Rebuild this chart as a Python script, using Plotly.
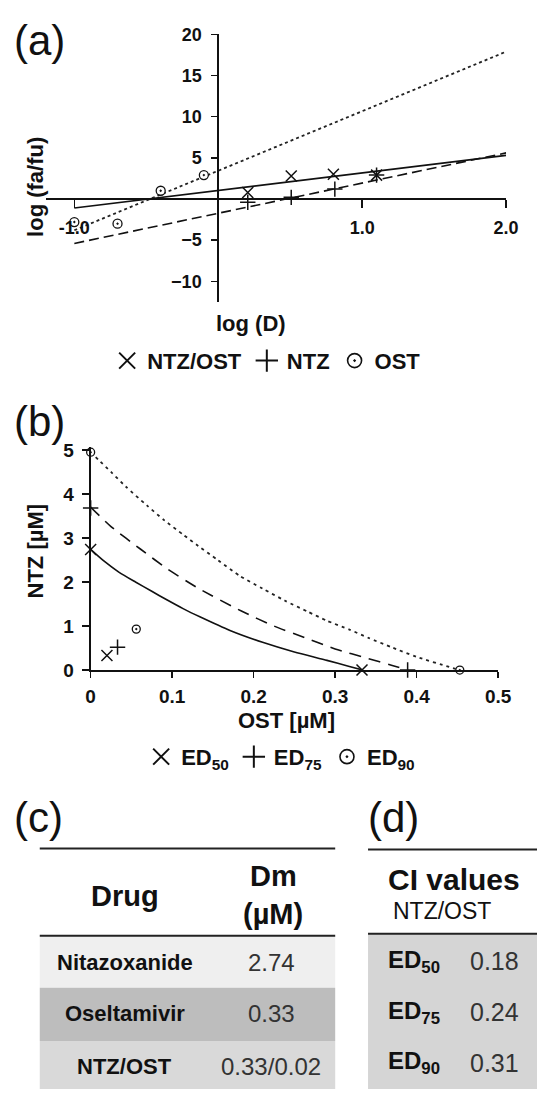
import plotly.graph_objects as go

W, H = 551, 1100
FONT = "Liberation Sans, Arial, sans-serif"

# ---------------- Panel (a): median-effect plot ----------------
ost_logd = [-1.00, -0.70, -0.40, -0.10]
ost_logfafu = [-2.8, -3.0, 1.0, 2.9]
ntz_logd = [0.205, 0.507, 0.81, 1.10]
ntz_logfafu = [-0.4, 0.2, 1.2, 2.9]
combo_logd = [0.205, 0.507, 0.80, 1.10]
combo_logfafu = [0.8, 2.8, 3.0, 2.9]
fit_logd = [-1.0, 2.0]
combo_fit = [-1.1, 5.3]
ntz_fit = [-5.4, 5.6]
ost_fit = [-3.8, 17.9]
a_xticks = [-1.0, 1.0, 2.0]
a_xticklabels = ["-1.0", "1.0", "2.0"]
a_yticks = [-10, -5, 5, 10, 15, 20]

# ---------------- Panel (b): isobologram ----------------
ed50_ost = [0.0, 0.0154, 0.035, 0.055, 0.075, 0.094, 0.114, 0.134, 0.171, 0.211, 0.250, 0.290, 0.3175, 0.334]
ed50_ntz = [2.74, 2.49, 2.22, 2.00, 1.79, 1.59, 1.39, 1.21, 0.90, 0.63, 0.41, 0.22, 0.08, 0.0]
ed75_ost = [0.0, 0.025, 0.061, 0.094, 0.132, 0.185, 0.225, 0.264, 0.300, 0.341, 0.369, 0.389]
ed75_ntz = [3.70, 3.26, 2.75, 2.30, 1.86, 1.34, 1.00, 0.73, 0.48, 0.26, 0.11, 0.0]
ed90_ost = [0.0, 0.0094, 0.025, 0.043, 0.069, 0.0905, 0.114, 0.132, 0.156, 0.183, 0.211, 0.238,
            0.266, 0.290, 0.3175, 0.341, 0.369, 0.400, 0.440, 0.453]
ed90_ntz = [4.95, 4.78, 4.50, 4.17, 3.74, 3.40, 3.07, 2.82, 2.50, 2.14, 1.85, 1.58,
            1.33, 1.12, 0.92, 0.73, 0.52, 0.30, 0.07, 0.0]
ed50_pts_ost = [0.0, 0.333, 0.020]
ed50_pts_ntz = [2.74, 0.0, 0.33]
ed75_pts_ost = [0.0, 0.389, 0.033]
ed75_pts_ntz = [3.68, 0.0, 0.52]
ed90_pts_ost = [0.0, 0.453, 0.056]
ed90_pts_ntz = [4.95, 0.0, 0.93]
b_xticks = [0, 0.1, 0.2, 0.3, 0.4, 0.5]
b_xticklabels = ["0", "0.1", "0.2", "0.3", "0.4", "0.5"]
b_yticks = [0, 1, 2, 3, 4, 5]

# ---------------- Panel (c) / (d): tables ----------------
drugs = ["Nitazoxanide", "Oseltamivir", "NTZ/OST"]
dm_values = ["2.74", "0.33", "0.33/0.02"]
ci_labels = ["ED<sub>50</sub>", "ED<sub>75</sub>", "ED<sub>90</sub>"]
ci_values = ["0.18", "0.24", "0.31"]

legend_a_names = ["NTZ/OST", "NTZ", "OST"]
legend_b_names = ["ED<sub>50</sub>", "ED<sub>75</sub>", "ED<sub>90</sub>"]


def px(xp):
    return xp / W


def py(yp):
    return 1 - yp / H


fig = go.Figure()

# (a) lines
for ys, ln in [
    (combo_fit, dict(color="#111", width=1.6, dash="solid")),
    (ntz_fit, dict(color="#111", width=1.6, dash="10px,5px")),
    (ost_fit, dict(color="#222", width=1.8, dash="3px,3px")),
]:
    fig.add_trace(go.Scatter(x=fit_logd, y=ys, mode="lines", line=ln,
                             showlegend=False, xaxis="x", yaxis="y", hoverinfo="skip"))

mk_x = dict(symbol="x-thin-open", size=11, color="#111", line=dict(width=1.5, color="#111"))
mk_p = dict(symbol="cross-thin-open", size=11, color="#111", line=dict(width=1.5, color="#111"))
mk_o = dict(symbol="circle-dot", size=9, color="white", line=dict(width=1.3, color="#111"))

for xs, ys, mk in [(combo_logd, combo_logfafu, mk_x), (ntz_logd, ntz_logfafu, mk_p),
                   (ost_logd, ost_logfafu, mk_o)]:
    fig.add_trace(go.Scatter(x=xs, y=ys, mode="markers", marker=mk, showlegend=False,
                             xaxis="x", yaxis="y", cliponaxis=False))

# (b) curves
for xs, ys, ln in [
    (ed50_ost, ed50_ntz, dict(color="#111", width=1.6, dash="solid", shape="spline", smoothing=0.6)),
    (ed75_ost, ed75_ntz, dict(color="#111", width=1.6, dash="12px,8px", shape="spline", smoothing=0.6)),
    (ed90_ost, ed90_ntz, dict(color="#222", width=1.8, dash="3px,4px", shape="spline", smoothing=0.6)),
]:
    fig.add_trace(go.Scatter(x=xs, y=ys, mode="lines", line=ln, showlegend=False,
                             xaxis="x2", yaxis="y2", hoverinfo="skip"))

for xs, ys, mk in [(ed50_pts_ost, ed50_pts_ntz, mk_x), (ed75_pts_ost, ed75_pts_ntz, mk_p),
                   (ed90_pts_ost, ed90_pts_ntz, dict(mk_o, size=8))]:
    fig.add_trace(go.Scatter(x=xs, y=ys, mode="markers", marker=mk, showlegend=False,
                             xaxis="x2", yaxis="y2", cliponaxis=False))

# legend-only entries (bigger symbols, as in the reference legends)
lg_x = dict(symbol="x-thin-open", size=16, color="#111", line=dict(width=2, color="#111"))
lg_p = dict(symbol="cross-thin-open", size=16, color="#111", line=dict(width=2, color="#111"))
lg_o = dict(symbol="circle-dot", size=14, color="white", line=dict(width=1.6, color="#111"))
for names, lg, xa, ya in [(legend_a_names, "legend", "x", "y"), (legend_b_names, "legend2", "x2", "y2")]:
    for nm, mk in zip(names, [lg_x, lg_p, lg_o]):
        fig.add_trace(go.Scatter(x=[None], y=[None], mode="markers", marker=mk, name=nm,
                                 legend=lg, xaxis=xa, yaxis=ya, showlegend=True))

# ---- axes geometry ----
ax_dom = [px(42), px(519)]
ax_rng = [-1.2, 2.0]
ay_dom = [py(298.3), py(25)]
ay_rng = [-12.5, 20.1]
x0_paper = ax_dom[0] + (0 - ax_rng[0]) / (ax_rng[1] - ax_rng[0]) * (ax_dom[1] - ax_dom[0])
y0_paper = ay_dom[0] + (0 - ay_rng[0]) / (ay_rng[1] - ay_rng[0]) * (ay_dom[1] - ay_dom[0])

tickfont_a = dict(family=FONT, size=18, color="#111", weight="bold")
tickfont_b = dict(family=FONT, size=19, color="#111", weight="bold")

fig.update_layout(
    width=W, height=H, autosize=False,
    margin=dict(l=0, r=0, t=0, b=0),
    paper_bgcolor="white", plot_bgcolor="white",
    xaxis=dict(domain=ax_dom, range=ax_rng, anchor="free", position=y0_paper,
               tickvals=a_xticks, ticktext=a_xticklabels, ticks="outside", ticklen=8,
               tickwidth=1.5, tickcolor="#111", showline=True, linecolor="#111", linewidth=2,
               showgrid=False, zeroline=False, tickfont=tickfont_a, ticklabelstandoff=4,
               fixedrange=True),
    yaxis=dict(domain=ay_dom, range=ay_rng, anchor="free", position=x0_paper,
               tickvals=a_yticks, ticks="outside", ticklen=6, tickwidth=1.5, tickcolor="#111",
               showline=True, linecolor="#111", linewidth=2, showgrid=False, zeroline=False,
               tickfont=tickfont_a, ticklabelstandoff=6, fixedrange=True),
    xaxis2=dict(domain=[px(88.7), px(510.7)], range=[0, 0.5], anchor="y2",
                tickvals=b_xticks, ticktext=b_xticklabels, ticks="outside", ticklen=6,
                tickwidth=1.5, tickcolor="#111", showline=True, linecolor="#111", linewidth=2,
                showgrid=False, zeroline=False, tickfont=tickfont_b, ticklabelstandoff=2,
                fixedrange=True),
    yaxis2=dict(domain=[py(673.3), py(446)], range=[0, 5.07], anchor="x2",
                tickvals=b_yticks, ticks="outside", ticklen=7, tickwidth=1.5, tickcolor="#111",
                showline=True, linecolor="#111", linewidth=2, showgrid=False, zeroline=False,
                tickfont=tickfont_b, ticklabelstandoff=4, fixedrange=True),
    legend=dict(orientation="h", x=px(271), xanchor="center", y=py(358.3), yanchor="middle",
                font=dict(family=FONT, size=22, color="#111", weight="bold"),
                bgcolor="rgba(0,0,0,0)", itemclick=False, itemdoubleclick=False),
    legend2=dict(orientation="h", x=px(285.5), xanchor="center", y=py(761.7), yanchor="middle",
                 font=dict(family=FONT, size=22, color="#111", weight="bold"),
                 bgcolor="rgba(0,0,0,0)", itemclick=False, itemdoubleclick=False),
    showlegend=True,
)

ann = []


def text(x, y, s, size, bold=True, color="#111", xanchor="center", angle=0):
    ann.append(dict(x=px(x), y=py(y), xref="paper", yref="paper", text=s, showarrow=False,
                    xanchor=xanchor, yanchor="middle", textangle=angle,
                    font=dict(family=FONT, size=size, color=color,
                              weight="bold" if bold else "normal")))


# panel labels
for lbl, x, y in [("(a)", 7, 31.7), ("(b)", 7, 420), ("(c)", 7, 823), ("(d)", 374, 823)]:
    text(x, y, lbl, 42, bold=False, color="#111", xanchor="left")

# axis titles
text(31.6, 181.7, "log (fa/fu)", 22, angle=-90)
text(254.7, 320, "log (D)", 22)
text(31.6, 552, "NTZ [µM]", 22, angle=-90)
text(291.6, 725, "OST [µM]", 22)

# table (c)
shapes = []
row_fills = ["#efefef", "#bdbdbd", "#d9d9d9"]
row_edges = [944, 997, 1051, 1100]
for i, f in enumerate(row_fills):
    shapes.append(dict(type="rect", xref="paper", yref="paper", x0=px(36), x1=px(342),
                       y0=py(row_edges[i + 1]), y1=py(row_edges[i]), fillcolor=f,
                       line=dict(width=0), layer="below"))
for yl in [855, 944]:
    shapes.append(dict(type="line", xref="paper", yref="paper", x0=px(36), x1=px(342),
                       y0=py(yl), y1=py(yl), line=dict(color="#222", width=2)))
text(124.7, 903, "Drug", 29)
text(277.6, 883, "Dm", 29)
text(277.6, 921.7, "(µM)", 29)
row_y = [970.7, 1023, 1076.7]
for i in range(3):
    text(124, row_y[i], drugs[i], 22)
    text(276, row_y[i], dm_values[i], 24, bold=False, color="#333")

# table (d)
shapes.append(dict(type="rect", xref="paper", yref="paper", x0=px(376), x1=px(551),
                   y0=py(1100), y1=py(942), fillcolor="#d5d5d5", line=dict(width=0), layer="below"))
for yl in [856, 942]:
    shapes.append(dict(type="line", xref="paper", yref="paper", x0=px(376), x1=px(551),
                       y0=py(yl), y1=py(yl), line=dict(color="#222", width=2)))
text(465, 887, "CI values", 30)
text(453, 919, "NTZ/OST", 23, bold=False)
ci_y = [970, 1021.7, 1073.3]
for i in range(3):
    text(395, ci_y[i], ci_labels[i], 24, xanchor="left")
    text(506.7, ci_y[i], ci_values[i], 25, bold=False, color="#333")

fig.update_layout(annotations=ann, shapes=shapes)

fig.write_html("out.html",
               config={"displayModeBar": False, "staticPlot": True},
               post_script="document.body.style.margin='0';document.body.style.padding='0';"
                           "document.documentElement.style.overflow='hidden';")
